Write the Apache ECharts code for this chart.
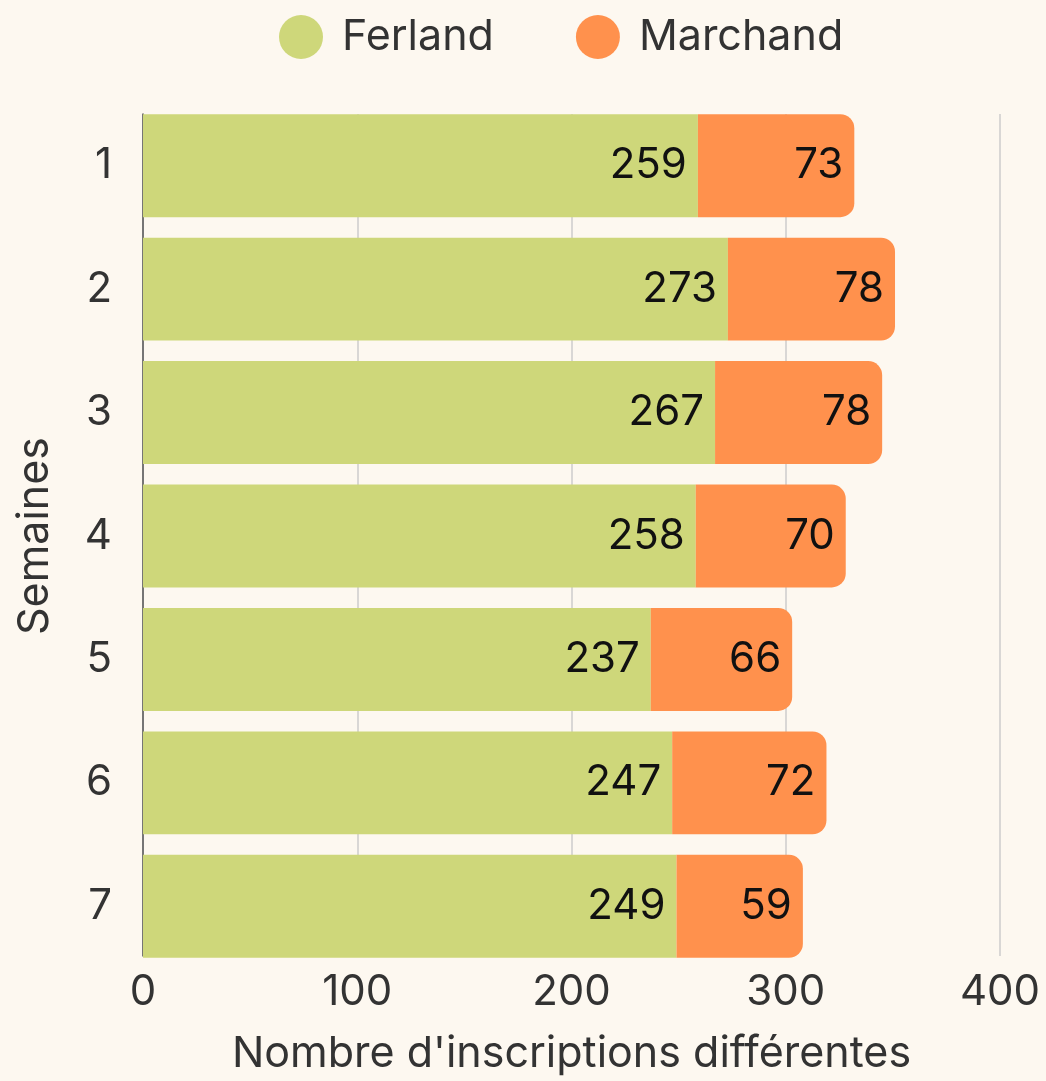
<!DOCTYPE html>
<html>
<head>
<meta charset="utf-8">
<script src="https://cdn.jsdelivr.net/npm/echarts@6/dist/echarts.min.js"></script>
<style>
html,body{margin:0;padding:0;background:#fdf8f0;}
#chart{width:1046px;height:1081px;}
</style>
</head>
<body>
<div id="chart"></div>
<script>
const categories = ['1','2','3','4','5','6','7'];
const ferland = [259, 273, 267, 258, 237, 247, 249];
const marchand = [73, 78, 78, 70, 66, 72, 59];
const xTicks = [0, 100, 200, 300, 400];

const FONT = 'Inter';
const chart = echarts.init(document.getElementById('chart'));
chart.setOption({
  backgroundColor: '#fdf8f0',
  textStyle: { fontFamily: FONT },
  legend: {
    top: 10,
    left: 274,
    icon: 'circle',
    itemWidth: 44,
    itemHeight: 44,
    itemGap: 82,
    textStyle: { fontSize: 43, color: '#333', fontFamily: FONT, padding: [0, 0, 0, 14] },
    data: ['Ferland', 'Marchand']
  },
  grid: [
    { left: 143, right: 46, top: 104, bottom: 113 },
    { left: 143, right: 46, top: 114, bottom: 123 }
  ],
  xAxis: [
    { type: 'value', gridIndex: 0, min: 0, max: 400, show: false, splitLine: { show: false } },
    {
      type: 'value', gridIndex: 1, min: xTicks[0], max: xTicks[xTicks.length - 1], interval: 100,
      axisLine: { show: false }, axisTick: { show: false },
      axisLabel: { fontSize: 42, color: '#333', margin: 15, fontFamily: FONT },
      splitLine: { show: true, lineStyle: { color: '#cccccc', width: 1.5 } },
      name: "Nombre d'inscriptions différentes",
      nameLocation: 'middle',
      nameGap: 77,
      nameTextStyle: { fontSize: 43, color: '#333', fontFamily: FONT }
    }
  ],
  yAxis: [
    {
      type: 'category', gridIndex: 0, inverse: true, data: categories,
      axisLine: { show: false }, axisTick: { show: false },
      axisLabel: { fontSize: 42, color: '#333', margin: 31, fontFamily: FONT },
      name: 'Semaines',
      nameLocation: 'middle',
      nameGap: 86,
      nameTextStyle: { fontSize: 43, color: '#333', fontFamily: FONT }
    },
    {
      type: 'value', gridIndex: 1, min: 0, max: 1,
      axisLine: { show: true, onZero: false, lineStyle: { color: '#555', width: 1.5 } },
      axisTick: { show: false }, axisLabel: { show: false }, splitLine: { show: false }
    }
  ],
  series: [
    {
      name: 'Ferland', type: 'bar', stack: 'total', xAxisIndex: 0, yAxisIndex: 0,
      data: ferland, barCategoryGap: '16.6%',
      itemStyle: { color: '#ced77a' },
      label: { show: true, position: 'insideRight', distance: 11, fontSize: 42, color: '#111', fontFamily: FONT },
      z: 3
    },
    {
      name: 'Marchand', type: 'bar', stack: 'total', xAxisIndex: 0, yAxisIndex: 0,
      data: marchand, barCategoryGap: '16.6%',
      itemStyle: { color: '#ff914d', borderRadius: [0, 14, 14, 0] },
      label: { show: true, position: 'insideRight', distance: 11, fontSize: 42, color: '#111', fontFamily: FONT },
      z: 3
    }
  ]
});
</script>
</body>
</html>
